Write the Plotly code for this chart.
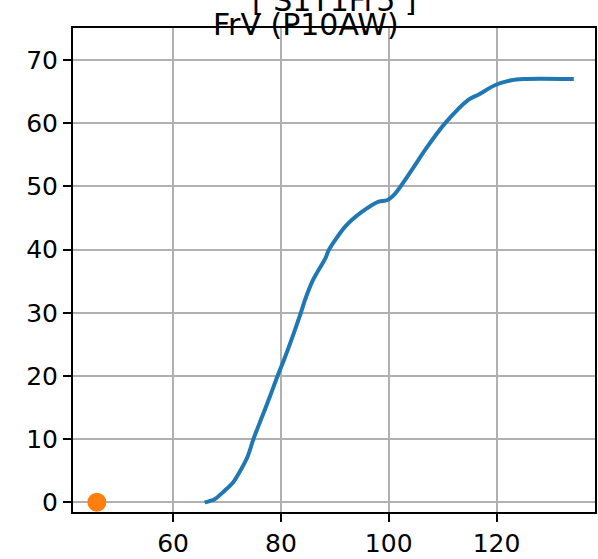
import plotly.graph_objects as go

# Curve data
curve_x = [65.85, 67.7, 69.5, 71.08, 72.6, 73.85, 74.9, 76.3, 77.85, 79.38, 80.6, 82.2,
           83.7, 84.5, 85.85, 86.47, 88.3, 88.93, 92.0, 95.07, 98.16, 99.69, 101.24,
           104.3, 106.78, 110.47, 114.77, 116.62, 119.7, 122.76, 125.0, 134.34]
curve_y = [0.0, 0.5, 1.8, 3.1, 5.2, 7.3, 10.0, 13.1, 16.5, 20.0, 22.6, 26.3,
           30.0, 32.1, 35.0, 36.0, 38.7, 40.0, 43.7, 46.0, 47.6, 47.8, 48.9,
           52.6, 55.8, 60.0, 63.7, 64.5, 66.0, 66.8, 67.0, 67.0]

point_x = [45.86]
point_y = [0.0]

x_ticks = [60, 80, 100, 120]
y_ticks = [0, 10, 20, 30, 40, 50, 60, 70]

title_top = "[ S1T1Fr5 ]"
title_sub = "FrV (P10AW)"

FONT = "DejaVu Sans"

fig = go.Figure()
fig.add_trace(go.Scatter(x=curve_x, y=curve_y, mode="lines",
                         line=dict(color="#1f77b4", width=4, shape="spline", smoothing=0.8),
                         showlegend=False, hoverinfo="skip"))
fig.add_trace(go.Scatter(x=point_x, y=point_y, mode="markers",
                         marker=dict(color="#ff7f0e", size=19),
                         showlegend=False, cliponaxis=False))

axis_common = dict(showgrid=True, gridcolor="#b0b0b0", gridwidth=2,
                   showline=True, linecolor="black", linewidth=2,
                   ticks="outside", ticklen=8, tickwidth=2, tickcolor="black",
                   tickfont=dict(family=FONT, size=25, color="black"),
                   zeroline=False)

fig.update_layout(
    width=598, height=559,
    margin=dict(l=73, r=1, t=28, b=46),
    paper_bgcolor="white", plot_bgcolor="white",
    font=dict(family=FONT, color="black"),
    xaxis=dict(range=[41.43, 138.27], tickvals=x_ticks, mirror=True, **axis_common),
    yaxis=dict(range=[-1.53, 75.06], tickvals=y_ticks, mirror=True, **axis_common),
    annotations=[
        dict(text=title_top, xref="paper", yref="paper", x=0.5, y=1.056,
             xanchor="center", yanchor="middle", showarrow=False,
             font=dict(family=FONT, size=30, color="black")),
        dict(text=title_sub, xref="paper", yref="paper", x=0.4456, y=1.0062,
             xanchor="center", yanchor="middle", showarrow=False,
             font=dict(family=FONT, size=30, color="black")),
    ],
)

fig.write_html("out.html", config={"displayModeBar": False},
               post_script="document.body.style.margin='0';document.body.style.overflow='hidden';")
